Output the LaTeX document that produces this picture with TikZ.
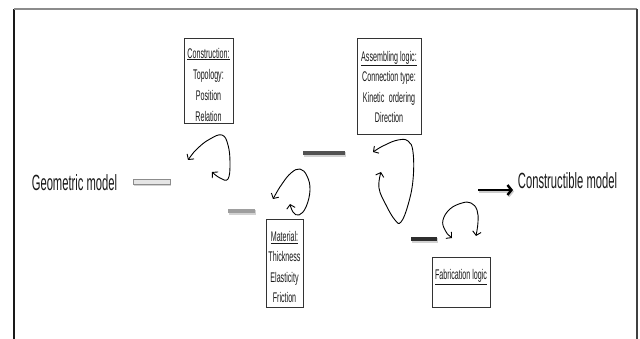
\documentclass[tikz,border=0pt]{standalone}
\usepackage{fontspec}
\newfontfamily\narrowfont[FakeStretch=0.51]{Liberation Sans}
\usetikzlibrary{arrows.meta,shadows}
\begin{document}
\begin{tikzpicture}[x=1pt,y=-1pt,
  boxstyle/.style={draw=black!80, line width=0.9pt, inner sep=0pt},
  boxtext/.style={font=\narrowfont\fontsize{14}{20.5}\selectfont, align=center, inner sep=0pt, text=black!90},
  bigtext/.style={font=\narrowfont\fontsize{22}{24}\selectfont, inner sep=0pt, text=black!90},
  loopline/.style={line width=0.9pt, {Straight Barb[length=3.8pt,width=8.5pt]}-{Straight Barb[length=3.8pt,width=8.5pt]}},
  barstyle/.style={minimum height=4.5pt, inner sep=0pt, drop shadow={shadow xshift=1pt,shadow yshift=-1.5pt,opacity=0.35}},
]
\useasboundingbox (0,0) rectangle (640,339);
\fill[white] (0,0) rectangle (640,339);
% frame
\draw[line width=1.4pt, black!90] (14,9) -- (14,339);
\draw[line width=1.2pt, black!45] (14,9) -- (637,9);
\draw[line width=1.2pt, black!75] (637,9) -- (637,339);

% texts
\node[bigtext] (geo) at (74.5,183) {Geometric model};
\node[bigtext] (cons) at (567.5,181) {Constructible model};

% bars
\node[barstyle, fill=black!10, draw=black!45, line width=0.5pt, minimum width=37pt] (bar1) at (151.5,182) {};
\node[barstyle, fill=black!38, minimum width=27pt] (bar2) at (241.5,211) {};
\node[barstyle, fill=black!68, minimum width=42pt] (bar3) at (324,153) {};
\node[barstyle, fill=black!82, minimum width=26pt] (bar4) at (424,239) {};

% boxes
\node[boxstyle, minimum width=49pt, minimum height=85pt] (cbox) at (208.5,80.5) {};
\node[boxtext, font=\narrowfont\fontsize{14}{21}\selectfont] (ctext) at (208.5,84.5) {\underline{Construction:}\\Topology:\\Position\\Relation};

\node[boxstyle, minimum width=37pt, minimum height=88pt] (mbox) at (284.5,263) {};
\node[boxtext] (mtext) at (284.5,267) {\underline{Material:}\\Thickness\\Elasticity\\Friction};

\node[boxstyle, minimum width=64pt, minimum height=96pt] (abox) at (389,86) {};
\node[boxtext] (atext) at (389,87) {\underline{Assembling logic:}\\Connection type:\\Kinetic\hspace{2.5pt} ordering\\Direction};

\node[boxstyle, minimum width=58pt, minimum height=50pt] (fbox) at (461,282) {};
\node[boxtext] (ftext) at (461,277) {\underline{Fabrication logic}};

% loops
\draw[loopline] plot[smooth, tension=0.7] coordinates {(188,160) (198,148) (210,139) (222,135) (228,145) (230,163) (228,179) (220,178) (212,172)};
\draw[loopline] plot[smooth, tension=0.7] coordinates {(273,199) (282,184) (291,173) (300,169) (307,176) (310,190) (306,207) (299,215) (293,212) (290,204)};
\draw[loopline] plot[smooth, tension=0.7] coordinates {(373,152) (385,145) (398,140) (408,141) (413,152) (413,180) (408,205) (401,222) (395,220) (386,205) (379,188) (381,172)};
\draw[loopline] plot[smooth, tension=0.7] coordinates {(452,238) (445,230) (443,220) (450,209) (462,203) (471,203) (477,210) (478,222) (476,236)};

% right arrow
\coordinate (r1) at (478,190);
\coordinate (r2) at (513,190);
\draw[line width=2.4pt, black!40, opacity=0.5, -{Straight Barb[length=4pt,width=10pt]}, transform canvas={xshift=1pt,yshift=-1.5pt}] (r1) -- (r2);
\draw[line width=2.4pt, black, -{Straight Barb[length=4pt,width=10pt]}] (r1) -- (r2);
\end{tikzpicture}
\end{document}
